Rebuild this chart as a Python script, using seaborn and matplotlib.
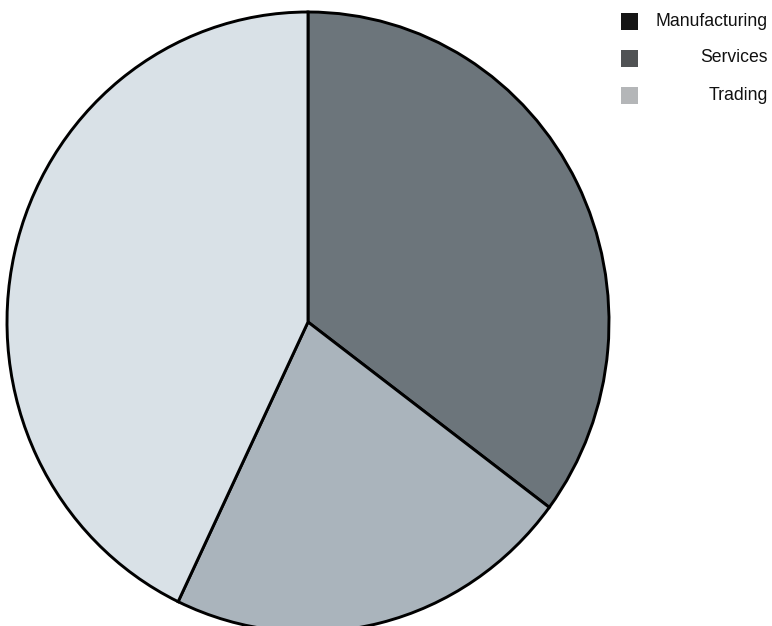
import matplotlib
matplotlib.use("Agg")
import matplotlib.pyplot as plt
import seaborn as sns
from matplotlib.patches import Rectangle

# Data (clockwise from 12 o'clock)
sectors = ["Manufacturing", "Services", "Trading"]
shares = [35.2, 21.9, 42.9]
slice_colors = ["#6c757b", "#aab4bc", "#d9e1e7"]
legend_colors = ["#151515", "#505254", "#b4b6b8"]

sns.set_theme(style="white")
plt.rcParams["font.family"] = ["Liberation Sans", "DejaVu Sans"]

fig = plt.figure(figsize=(7.72, 6.26), dpi=100)
fig.patch.set_facecolor("white")

# pie axes placed so the (slightly oval) scanned circle fits
ax = fig.add_axes([7 / 772, -6 / 626, 602 / 772, 620 / 626])
ax.pie(shares, colors=slice_colors, startangle=90, counterclock=False,
       wedgeprops=dict(edgecolor="black", linewidth=2.1))
ax.set_aspect("auto")
ax.set_xlim(-1.0, 1.0)
ax.set_ylim(-1.0, 1.0)
ax.axis("off")

# legend: square markers on the left, labels right-aligned
sq = 17
for i, (name, col) in enumerate(zip(sectors, legend_colors)):
    cy = 21 + i * 37
    fig.patches.append(Rectangle(((629 - sq / 2) / 772, 1 - (cy + sq / 2) / 626),
                                 sq / 772, sq / 626, transform=fig.transFigure,
                                 facecolor=col, edgecolor="none"))
    fig.text(768 / 772, 1 - cy / 626, name, ha="right", va="center",
             fontsize=12.7, color="#111111")

plt.savefig("out.png", dpi=100, facecolor="white")
